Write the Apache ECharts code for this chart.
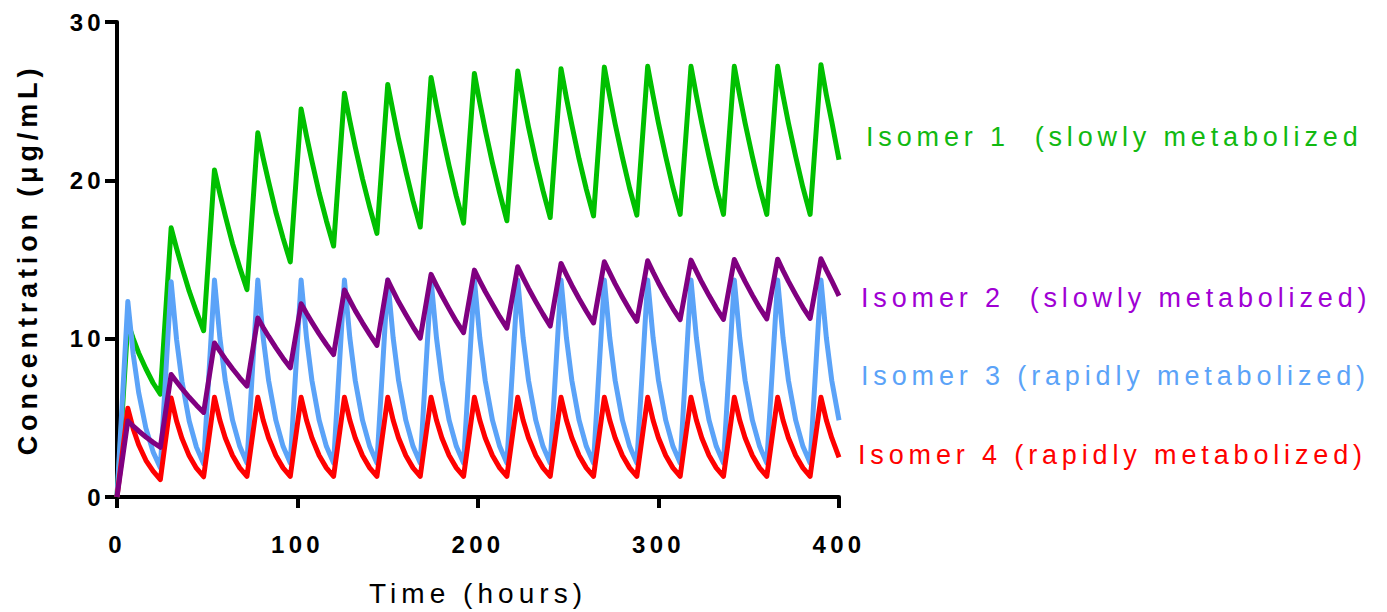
<!DOCTYPE html>
<html>
<head>
<meta charset="utf-8">
<script src="https://cdn.jsdelivr.net/npm/echarts@6/dist/echarts.min.js"></script>
<style>
	html, body { margin: 0; padding: 0; background: #fff; }
	#chart { width: 1387px; height: 612px; }
	/* the original figure uses wide letter spacing everywhere */
	#chart text { letter-spacing: 0.18em; white-space: pre; }
</style>
</head>
<body>
<div id="chart"></div>
<script>
// sample times (hours): dose every 24 h, peak 6 h after each dose
var hours = [
	0, 6, 9, 12, 16, 20,
	24, 30, 33, 36, 40, 44,
	48, 54, 57, 60, 64, 68,
	72, 78, 81, 84, 88, 92,
	96, 102, 105, 108, 112, 116,
	120, 126, 129, 132, 136, 140,
	144, 150, 153, 156, 160, 164,
	168, 174, 177, 180, 184, 188,
	192, 198, 201, 204, 208, 212,
	216, 222, 225, 228, 232, 236,
	240, 246, 249, 252, 256, 260,
	264, 270, 273, 276, 280, 284,
	288, 294, 297, 300, 304, 308,
	312, 318, 321, 324, 328, 332,
	336, 342, 345, 348, 352, 356,
	360, 366, 369, 372, 376, 380,
	384, 390, 393, 396, 400
];

// concentrations (ug/mL)
var isomer1 = [
	0, 11.0, 10.0, 9.1, 8.1, 7.2,
	6.5, 17.0, 15.7, 14.5, 13.0, 11.7,
	10.5, 20.65, 19.15, 17.75, 16.0, 14.5,
	13.1, 23.0, 21.4, 19.9, 18.0, 16.35,
	14.85, 24.5, 22.8, 21.2, 19.2, 17.45,
	15.85, 25.5, 23.75, 22.1, 20.1, 18.3,
	16.65, 26.05, 24.3, 22.6, 20.6, 18.7,
	17.05, 26.5, 24.7, 23.0, 20.9, 19.0,
	17.3, 26.75, 24.9, 23.2, 21.1, 19.2,
	17.45, 26.9, 25.1, 23.35, 21.25, 19.35,
	17.65, 27.05, 25.2, 23.5, 21.35, 19.45,
	17.75, 27.15, 25.3, 23.55, 21.45, 19.5,
	17.8, 27.2, 25.35, 23.6, 21.5, 19.55,
	17.85, 27.2, 25.35, 23.6, 21.5, 19.55,
	17.85, 27.2, 25.35, 23.6, 21.5, 19.55,
	17.85, 27.2, 25.35, 23.6, 21.5, 19.55,
	17.85, 27.3, 25.4, 23.7, 21.3
];
var isomer2 = [
	0, 4.8, 4.47, 4.17, 3.79, 3.45,
	3.14, 7.74, 7.28, 6.84, 6.3, 5.8,
	5.34, 9.73, 9.21, 8.72, 8.1, 7.53,
	7.0, 11.3, 10.7, 10.14, 9.43, 8.77,
	8.16, 12.2, 11.6, 11.03, 10.3, 9.63,
	9.0, 13.08, 12.41, 11.77, 11.0, 10.27,
	9.58, 13.7, 13.0, 12.33, 11.52, 10.75,
	10.04, 14.06, 13.37, 12.71, 11.88, 11.09,
	10.38, 14.33, 13.64, 12.98, 12.17, 11.39,
	10.67, 14.54, 13.84, 13.17, 12.34, 11.55,
	10.8, 14.75, 14.04, 13.36, 12.52, 11.73,
	10.99, 14.86, 14.15, 13.46, 12.62, 11.82,
	11.1, 14.92, 14.2, 13.52, 12.68, 11.9,
	11.2, 14.96, 14.25, 13.56, 12.72, 11.93,
	11.22, 15.0, 14.28, 13.6, 12.75, 11.96,
	11.25, 15.02, 14.3, 13.62, 12.78, 11.98,
	11.28, 15.05, 14.33, 13.65, 12.7
];
var isomer3 = [
	0, 12.35, 9.0, 6.6, 4.35, 2.85,
	1.85, 13.6, 9.95, 7.3, 4.8, 3.15,
	2.1, 13.7, 10.05, 7.35, 4.85, 3.2,
	2.15, 13.7, 10.05, 7.35, 4.85, 3.2,
	2.15, 13.7, 10.05, 7.35, 4.85, 3.2,
	2.15, 13.7, 10.05, 7.35, 4.85, 3.2,
	2.15, 13.7, 10.05, 7.35, 4.85, 3.2,
	2.15, 13.7, 10.05, 7.35, 4.85, 3.2,
	2.15, 13.7, 10.05, 7.35, 4.85, 3.2,
	2.15, 13.7, 10.05, 7.35, 4.85, 3.2,
	2.15, 13.7, 10.05, 7.35, 4.85, 3.2,
	2.15, 13.7, 10.05, 7.35, 4.85, 3.2,
	2.15, 13.7, 10.05, 7.35, 4.85, 3.2,
	2.15, 13.7, 10.05, 7.35, 4.85, 3.2,
	2.15, 13.7, 10.05, 7.35, 4.85, 3.2,
	2.15, 13.7, 10.05, 7.35, 4.85, 3.2,
	2.15, 13.7, 10.05, 7.35, 4.85
];
var isomer4 = [
	0, 5.6, 4.3, 3.3, 2.32, 1.63,
	1.1, 6.25, 4.8, 3.7, 2.6, 1.82,
	1.28, 6.3, 4.85, 3.73, 2.62, 1.84,
	1.3, 6.3, 4.85, 3.73, 2.62, 1.84,
	1.3, 6.3, 4.85, 3.73, 2.62, 1.84,
	1.3, 6.3, 4.85, 3.73, 2.62, 1.84,
	1.3, 6.3, 4.85, 3.73, 2.62, 1.84,
	1.3, 6.3, 4.85, 3.73, 2.62, 1.84,
	1.3, 6.3, 4.85, 3.73, 2.62, 1.84,
	1.3, 6.3, 4.85, 3.73, 2.62, 1.84,
	1.3, 6.3, 4.85, 3.73, 2.62, 1.84,
	1.3, 6.3, 4.85, 3.73, 2.62, 1.84,
	1.3, 6.3, 4.85, 3.73, 2.62, 1.84,
	1.3, 6.3, 4.85, 3.73, 2.62, 1.84,
	1.3, 6.3, 4.85, 3.73, 2.62, 1.84,
	1.3, 6.3, 4.85, 3.73, 2.62, 1.84,
	1.3, 6.3, 4.85, 3.73, 2.5
];

var seriesNames = ['Isomer 1', 'Isomer 2', 'Isomer 3', 'Isomer 4'];
var seriesLabels = [
	'Isomer 1  (slowly metabolized',
	'Isomer 2  (slowly metabolized)',
	'Isomer 3 (rapidly metabolized)',
	'Isomer 4 (rapidly metabolized)'
];
var xTicks = [0, 100, 200, 300, 400];
var yTicks = [0, 10, 20, 30];

var font = '"Liberation Sans", Arial, sans-serif';

function pairs(values) {
	return hours.map(function(h, i) { return [h, values[i]]; });
}

function line(name, values, color) {
	return {
		name: name,
		type: 'line',
		data: pairs(values),
		showSymbol: false,
		lineStyle: { color: color, width: 5, join: 'round' },
		itemStyle: { color: color }
	};
}

var myChart = echarts.init(document.getElementById('chart'), null, { renderer: 'svg' });

var option = {
	animation: false,
	backgroundColor: '#fff',
	grid: { left: 117, right: 548, top: 22, bottom: 112 },
	xAxis: {
		type: 'value',
		min: xTicks[0],
		max: xTicks[xTicks.length - 1],
		interval: xTicks[1] - xTicks[0],
		name: 'Time (hours)',
		nameLocation: 'middle',
		nameGap: 82,
		nameTextStyle: { fontFamily: font, fontSize: 28, color: '#000' },
		axisLine: { lineStyle: { color: '#000', width: 4 } },
		axisTick: { length: 11, lineStyle: { color: '#000', width: 4 } },
		axisLabel: { fontFamily: font, fontWeight: 'bold', fontSize: 24, color: '#000', margin: 35 },
		splitLine: { show: false }
	},
	yAxis: {
		type: 'value',
		min: yTicks[0],
		max: yTicks[yTicks.length - 1],
		interval: yTicks[1] - yTicks[0],
		name: 'Concentration (\u03bcg/mL)',
		nameLocation: 'middle',
		nameGap: 76,
		nameTextStyle: { fontFamily: font, fontWeight: 'bold', fontSize: 27, color: '#000' },
		axisLine: { lineStyle: { color: '#000', width: 4 } },
		axisTick: { length: 12, lineStyle: { color: '#000', width: 4 } },
		axisLabel: { fontFamily: font, fontWeight: 'bold', fontSize: 24, color: '#000', margin: 12 },
		splitLine: { show: false }
	},
	graphic: [
		{ type: 'text', x: 866, y: 137, style: { text: seriesLabels[0], fill: '#11b911', font: '27px ' + font, verticalAlign: 'middle' } },
		{ type: 'text', x: 861, y: 298, style: { text: seriesLabels[1], fill: '#a000d4', font: '27px ' + font, verticalAlign: 'middle' } },
		{ type: 'text', x: 861, y: 376, style: { text: seriesLabels[2], fill: '#5ba3f8', font: '27px ' + font, verticalAlign: 'middle' } },
		{ type: 'text', x: 858, y: 455, style: { text: seriesLabels[3], fill: '#ff0000', font: '27px ' + font, verticalAlign: 'middle' } }
	],
	series: [
		line(seriesNames[0], isomer1, '#00c000'),
		line(seriesNames[2], isomer3, '#5ba3f8'),
		line(seriesNames[3], isomer4, '#ff0000'),
		line(seriesNames[1], isomer2, '#800080')
	]
};
myChart.setOption(option);
</script>
</body>
</html>
